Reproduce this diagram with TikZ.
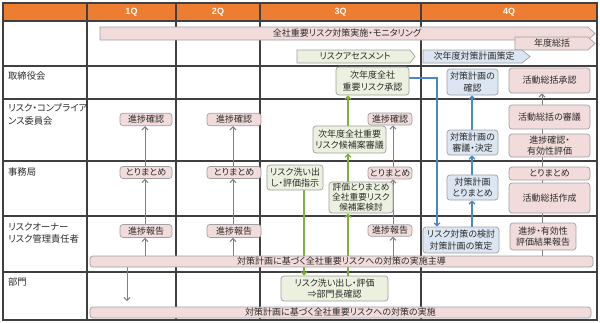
\documentclass[tikz,border=0pt]{standalone}
\usepackage{fontspec}
\setmainfont{Noto Sans CJK JP}[RawFeature={+palt}]
\newfontfamily\hfont{Liberation Sans}
\usetikzlibrary{arrows.meta}
\definecolor{org}{HTML}{ED7D31}
\definecolor{gridc}{HTML}{404040}
\definecolor{pinkf}{HTML}{F2DCDB}
\definecolor{greenf}{HTML}{EBF1DE}
\definecolor{bluef}{HTML}{DCE6F2}
\definecolor{bord}{HTML}{A0A0A0}
\definecolor{txt}{HTML}{2B2B2B}
\definecolor{blueln}{HTML}{4A86C8}
\definecolor{greenln}{HTML}{7FAF3A}
\definecolor{grayln}{HTML}{7F7F7F}
\pgfdeclarelayer{bg}
\pgfsetlayers{bg,main}
\begin{document}
\begin{tikzpicture}[x=1pt,y=-1pt,
  box/.style={draw=bord,line width=0.7pt,rounded corners=3pt,inner sep=0pt,align=center,text=txt,font=\fontsize{9}{11.5}\selectfont},
  pbox/.style={box,fill=pinkf},
  gbox/.style={box,fill=greenf},
  bbox/.style={box,fill=bluef},
  sz/.style 2 args={minimum width=#1,minimum height=#2},
  lbl/.style={anchor=west,inner sep=0pt,text=txt,align=left,font=\fontsize{9.3}{12.5}\selectfont},
  hdr/.style={inner sep=0pt,text=white,font=\hfont\bfseries\fontsize{9}{10}\selectfont},
  atext/.style={inner sep=0pt,text=txt,font=\fontsize{9}{10}\selectfont},
  shp/.style={draw=bord,line width=0.7pt},
  gridline/.style={draw=gridc,line width=1.1pt},
  garr/.style={draw=grayln,line width=1pt,-{Straight Barb[length=3pt,width=6pt]}},
  grarr/.style={draw=greenln,line width=1.3pt,-{Straight Barb[length=3pt,width=6pt]}},
  barr/.style={draw=blueln,line width=1.2pt,-{Straight Barb[length=3pt,width=6pt]}}
]
\useasboundingbox (0,0) rectangle (600,322);

% top row arrow shapes
\draw[shp,fill=pinkf] (100,27) -- (588,27) -- (595,33.5) -- (588,40) -- (100,40) -- cycle;
\node[atext] (t1) at (347,33.5) {全社重要リスク対策実施・モニタリング};
\draw[shp,fill=pinkf] (515,37) -- (588,37) -- (595,43.5) -- (588,50) -- (515,50) -- cycle;
\node[atext] (t2) at (552,43.5) {年度総括};
\draw[shp,fill=greenf] (297,50) -- (410,50) -- (415,56.5) -- (410,63) -- (297,63) -- cycle;
\node[atext] (t3) at (355,56.5) {リスクアセスメント};
\draw[shp,fill=bluef] (423,50) -- (522,50) -- (530,56.5) -- (522,63) -- (423,63) -- cycle;
\node[atext] (t4) at (474,56.5) {次年度対策計画策定};

% header
\node[hdr] (h1) at (131.5,12) {1Q};
\node[hdr] (h2) at (218,12) {2Q};
\node[hdr] (h3) at (340.5,12) {3Q};
\node[hdr] (h4) at (509,12) {4Q};

% row labels
\node[lbl] (L1) at (8,76) {取締役会};
\node[lbl] (L2) at (8,114.5) {リスク・コンプライア\\ンス委員会};
\node[lbl] (L3) at (8,172) {事務局};
\node[lbl,font=\fontsize{9.3}{11.5}\selectfont] (L4) at (8,233) {リスクオーナー\\リスク管理責任者};
\node[lbl] (L5) at (8,282) {部門};

% 1Q / 2Q / 3Q boxes
\node[pbox,sz={52}{12.5}] (p1a) at (146,119.5) {進捗確認};
\node[pbox,sz={52}{12}] (p1b) at (146,172.5) {とりまとめ};
\node[pbox,sz={52}{13}] (p1c) at (146,231) {進捗報告};
\node[pbox,sz={54}{12.5}] (p2a) at (234,119.5) {進捗確認};
\node[pbox,sz={54}{12}] (p2b) at (234,172.5) {とりまとめ};
\node[pbox,sz={54}{13}] (p2c) at (234,231) {進捗報告};
\node[pbox,sz={44}{12}] (p3a) at (390,119) {進捗確認};
\node[pbox,sz={44}{12}] (p3b) at (390,173) {とりまとめ};
\node[pbox,sz={44}{11.5}] (p3c) at (390,230.5) {進捗報告};

% green boxes
\node[gbox,sz={73}{28}] (g1) at (372.5,81) {次年度全社\\重要リスク承認};
\node[gbox,sz={73}{27}] (g2) at (349.5,139.5) {次年度全社重要\\リスク候補案審議};
\node[gbox,sz={56}{25}] (g3) at (295,177.5) {リスク洗い出\\し・評価指示};
\node[gbox,sz={64}{31},font=\fontsize{8.7}{9.8}\selectfont] (g4) at (361,197.5) {評価とりまとめ\\全社重要リスク\\候補案検討};
\node[gbox,sz={107}{25}] (g5) at (334.5,288.5) {リスク洗い出し・評価\\⇒部門長確認};

% blue boxes
\node[bbox,sz={51}{26}] (b1) at (472.5,82) {対策計画の\\確認};
\node[bbox,sz={51}{25}] (b2) at (472.5,142.5) {対策計画の\\審議・決定};
\node[bbox,sz={51}{25}] (b3) at (472.5,187.5) {対策計画\\とりまとめ};
\node[bbox,sz={76}{26}] (b4) at (461,240) {リスク対策の検討\\対策計画の策定};

% right pink boxes
\node[pbox,sz={81}{25}] (r1) at (549.5,80.5) {活動総括承認};
\node[pbox,sz={81}{24}] (r2) at (549.5,117) {活動総括の審議};
\node[pbox,sz={81}{23}] (r3) at (549.5,145.5) {進捗確認・\\有効性評価};
\node[pbox,sz={81}{13}] (r4) at (549.5,173.5) {とりまとめ};
\node[pbox,sz={81}{30}] (r5) at (549.5,198) {活動総括作成};
\node[pbox,sz={66}{27}] (r6) at (543,236.5) {進捗・有効性\\評価結果報告};

% long bars
\node[pbox,sz={503}{11}] (barA) at (341.5,261.5) {対策計画に基づく全社重要リスクへの対策の実施主導};
\node[pbox,sz={501}{11}] (barB) at (340.5,312.5) {対策計画に基づく全社重要リスクへの対策の実施};

% line positions
\coordinate (x1q) at (145,0);
\coordinate (x2q) at (233,0);
\coordinate (x3q) at (393,0);
\coordinate (xr) at (542,0);
\coordinate (xg) at (348,0);
\coordinate (xg2) at (304,0);
\coordinate (xb) at (472,0);
\coordinate (xbl) at (437,0);
\coordinate (xdn) at (127,0);
\coordinate (dnend) at (127,301);
\coordinate (bturn) at (437,78);

\begin{pgfonlayer}{bg}
\fill[white] (0,0) rectangle (600,322);
\fill[org] (3,3) rectangle (597,21);
\draw[gridline] (3,3) rectangle (597,320);
\foreach \yy in {21,66,99,161,216,272} \draw[gridline] (3,\yy) -- (597,\yy);
\foreach \xx in {87,176,260,421} \draw[gridline] (\xx,3) -- (\xx,320);
% gray
\draw[garr] (barA.north -| x1q) -- (p1c.south -| x1q);
\draw[garr] (p1c.north -| x1q) -- (p1b.south -| x1q);
\draw[garr] (p1b.north -| x1q) -- (p1a.south -| x1q);
\draw[garr] (barA.south -| xdn) -- (dnend);
\draw[garr] (barA.north -| x2q) -- (p2c.south -| x2q);
\draw[garr] (p2c.north -| x2q) -- (p2b.south -| x2q);
\draw[garr] (p2b.north -| x2q) -- (p2a.south -| x2q);
\draw[garr] (barA.north -| x3q) -- (p3c.south -| x3q);
\draw[garr] (p3c.north -| x3q) -- (p3b.south -| x3q);
\draw[garr] (p3b.north -| x3q) -- (p3a.south -| x3q);
\draw[garr] (barA.north -| xr) -- (r1.south -| xr);
% green
\draw[grarr] (g3.south -| xg2) -- (g5.north -| xg2);
\draw[grarr] (g5.north -| xg) -- (g4.south -| xg);
\draw[grarr] (g4.north -| xg) -- (g2.south -| xg);
\draw[grarr] (g2.north -| xg) -- (g1.south -| xg);
% blue
\draw[barr] (b4.north -| xb) -- (b3.south -| xb);
\draw[barr] (b3.north -| xb) -- (b2.south -| xb);
\draw[barr] (b2.north -| xb) -- (b1.south -| xb);
\draw[barr] (g1.east |- bturn) -- (bturn) -- (b4.north -| xbl);
\end{pgfonlayer}
\end{tikzpicture}
\end{document}
